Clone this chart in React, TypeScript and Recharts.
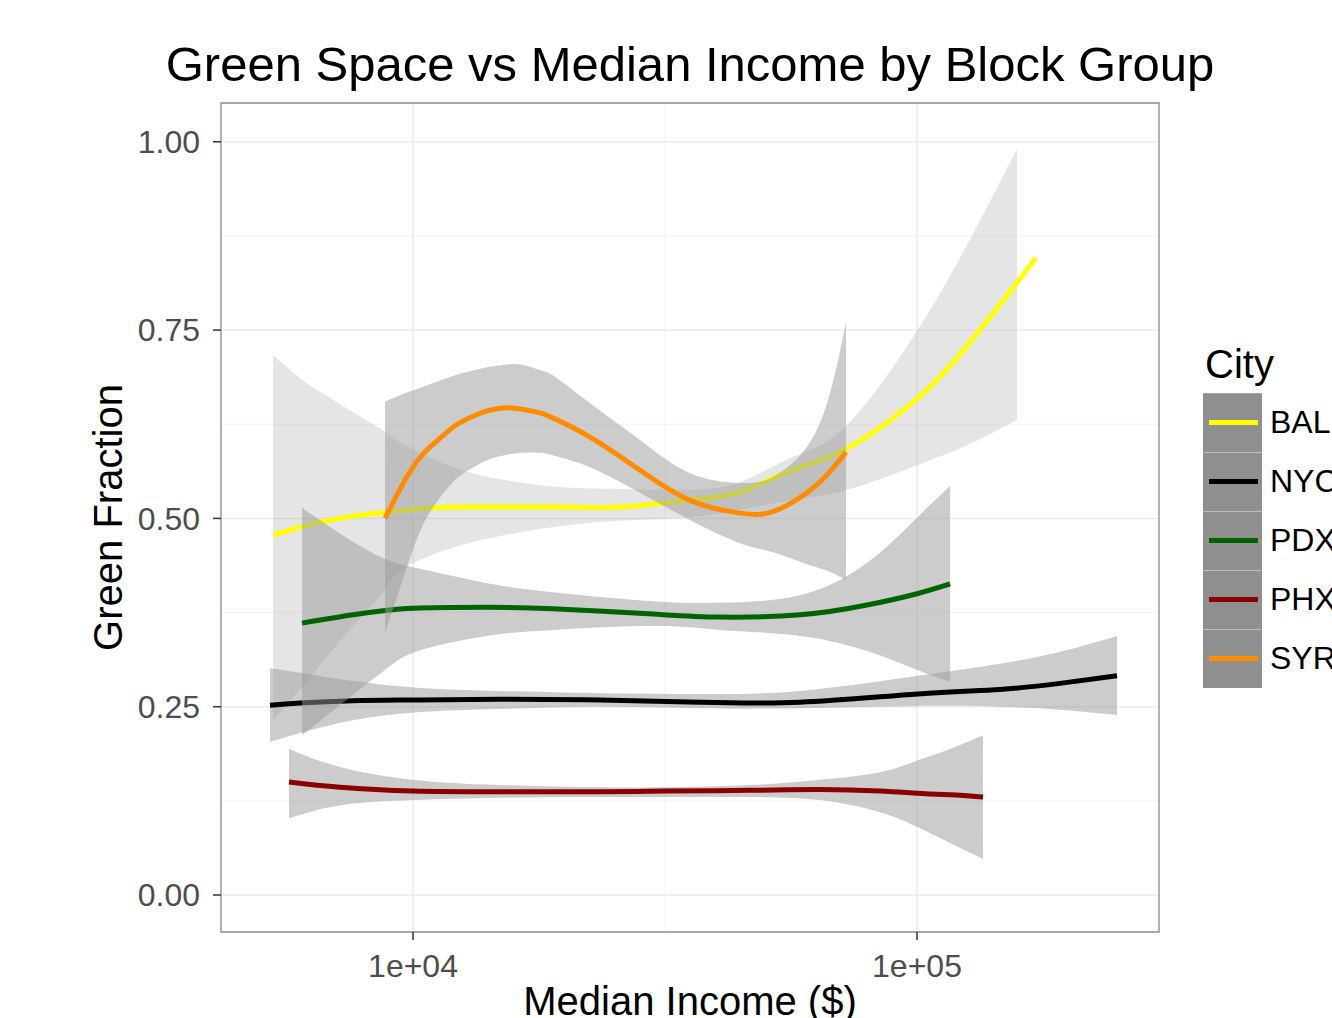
import { ComposedChart, Line, Area, XAxis, YAxis, CartesianGrid, ReferenceArea } from 'recharts';

const FONT = '"Liberation Sans", Arial, Helvetica, sans-serif';

// income (x) in dollars, log scale
const balIncome = [5277, 6022, 6540, 7603, 8800, 9641, 12115, 15223, 19130, 25750, 34980, 44550, 56000, 72630, 100460, 125700, 157900, 172200];
const balFit = [0.478, 0.489, 0.495, 0.503, 0.508, 0.511, 0.515, 0.515, 0.515, 0.515, 0.524, 0.535, 0.563, 0.593, 0.66, 0.729, 0.813, 0.846];
const balLow = [0.232, 0.276, 0.305, 0.357, 0.406, 0.435, 0.462, 0.478, 0.489, 0.497, 0.501, 0.511, 0.524, 0.538, 0.571, 0.597, 0.631];
const balHigh = [0.717, 0.684, 0.668, 0.641, 0.615, 0.597, 0.567, 0.551, 0.542, 0.539, 0.538, 0.548, 0.58, 0.624, 0.751, 0.863, 0.99];

const nycIncome = [5203, 5969, 7603, 10325, 14880, 23500, 37100, 58600, 100460, 146100, 192200, 249400];
const nycFit = [0.252, 0.255, 0.258, 0.259, 0.26, 0.259, 0.256, 0.256, 0.267, 0.273, 0.281, 0.291];
const nycLow = [0.203, 0.215, 0.232, 0.243, 0.247, 0.25, 0.248, 0.248, 0.251, 0.25, 0.246, 0.239];
const nycHigh = [0.301, 0.295, 0.284, 0.275, 0.271, 0.268, 0.267, 0.271, 0.291, 0.307, 0.323, 0.344];

const pdxIncome = [6022, 7603, 8880, 10325, 14023, 18950, 29940, 40650, 58600, 79580, 100000, 116300];
const pdxFit = [0.361, 0.372, 0.378, 0.381, 0.382, 0.38, 0.373, 0.369, 0.372, 0.385, 0.4, 0.413];
const pdxLow = [0.212, 0.266, 0.301, 0.325, 0.344, 0.352, 0.357, 0.352, 0.344, 0.324, 0.299, 0.283];
const pdxHigh = [0.514, 0.469, 0.445, 0.433, 0.414, 0.402, 0.39, 0.388, 0.398, 0.441, 0.501, 0.543];

const phxIncome = [5675, 7165, 10000, 14880, 23500, 31480, 46640, 64190, 84450, 100460, 116300, 135200];
const phxFit = [0.15, 0.143, 0.138, 0.137, 0.137, 0.138, 0.139, 0.14, 0.138, 0.135, 0.133, 0.13];
const phxLow = [0.102, 0.119, 0.126, 0.129, 0.13, 0.13, 0.13, 0.126, 0.11, 0.09, 0.069, 0.048];
const phxHigh = [0.194, 0.17, 0.153, 0.146, 0.143, 0.143, 0.146, 0.153, 0.163, 0.179, 0.194, 0.212];

const syrIncome = [8800, 9641, 10420, 11210, 12115, 13095, 14088, 15223, 16450, 17860, 19130, 22450, 28210, 35440, 44550, 51800, 60490, 67210, 72300];
const syrFit = [0.5, 0.551, 0.584, 0.604, 0.623, 0.635, 0.643, 0.647, 0.645, 0.64, 0.632, 0.608, 0.564, 0.524, 0.507, 0.509, 0.534, 0.562, 0.588];
const syrLow = [0.348, 0.428, 0.489, 0.524, 0.551, 0.567, 0.578, 0.584, 0.587, 0.587, 0.583, 0.568, 0.534, 0.498, 0.467, 0.455, 0.439, 0.429, 0.418];
const syrHigh = [0.655, 0.666, 0.674, 0.682, 0.69, 0.696, 0.701, 0.704, 0.704, 0.697, 0.688, 0.653, 0.604, 0.56, 0.547, 0.555, 0.595, 0.666, 0.761];

const cities = ['BAL', 'NYC', 'PDX', 'PHX', 'SYR'];
const cityColors = ['#FFFF00', '#000000', '#006400', '#8B0000', '#FF8C00'];

const xTicks = [10000, 100000];
const yTicks = [0, 0.25, 0.5, 0.75, 1];
const yMinor = [0.125, 0.375, 0.625, 0.875];
const xMinor = [31623];

const X_DOMAIN: [number, number] = [4159, 302100];
const Y_DOMAIN: [number, number] = [-0.0491, 1.0515];

const W = 1332;
const H = 1060;
const PLOT = { left: 221, top: 103, right: 1159, bottom: 932 };

const build = (xs: number[], fit: number[], lo: number[], hi: number[]) => ({
  line: xs.map((x, i) => ({ x, y: fit[i] })),
  band: lo.map((l, i) => ({ x: xs[i], lo: l, hi: hi[i] })),
});

const series = [
  build(balIncome, balFit, balLow, balHigh),
  build(nycIncome, nycFit, nycLow, nycHigh),
  build(pdxIncome, pdxFit, pdxLow, pdxHigh),
  build(phxIncome, phxFit, phxLow, phxHigh),
  build(syrIncome, syrFit, syrLow, syrHigh),
];
const bandOpacity = [0.25, 0.5, 0.5, 0.5, 0.5];

const fmtExp = (v: number) => {
  const [m, e] = v.toExponential().split('e');
  const n = Math.abs(parseInt(e, 10));
  return `${m}e${e[0] === '-' ? '-' : '+'}${n < 10 ? '0' + n : n}`;
};

const xTitle = () => (
  <text x={(PLOT.left + PLOT.right) / 2} y={1015} textAnchor="middle" fontSize={40} fontFamily={FONT} fill="#000">
    Median Income ($)
  </text>
);

const yTitle = () => {
  const cx = 122;
  const cy = (PLOT.top + PLOT.bottom) / 2;
  return (
    <text x={cx} y={cy} transform={`rotate(-90 ${cx} ${cy})`} textAnchor="middle" fontSize={40} fontFamily={FONT} fill="#000">
      Green Fraction
    </text>
  );
};

function CityLegend() {
  return (
    <div style={{ position: 'absolute', left: 1203, top: 344, fontFamily: FONT, color: '#000' }}>
      <div style={{ fontSize: 40, lineHeight: '40px', marginLeft: 2, height: 49 }}>City</div>
      {cities.map((c, i) => (
        <div key={c} style={{ display: 'flex', alignItems: 'center', height: 59 }}>
          <div
            style={{
              width: 59,
              height: 59,
              boxSizing: 'border-box',
              background: '#8F8F8F',
              borderTop: i === 0 ? '1px solid #A8A8A8' : '1px solid #BDBDBD',
              position: 'relative',
            }}
          >
            <div style={{ position: 'absolute', left: 6, top: 26, width: 49, height: 5, background: cityColors[i] }} />
          </div>
          <span style={{ fontSize: 32, marginLeft: 8, whiteSpace: 'nowrap' }}>{c}</span>
        </div>
      ))}
    </div>
  );
}

export default function App() {
  return (
    <div style={{ position: 'fixed', left: 0, top: 0, width: 1332, height: 1018, overflow: 'hidden', background: '#fff' }}>
      <div
        style={{
          position: 'absolute',
          left: -10,
          top: 40,
          width: 1400,
          textAlign: 'center',
          fontSize: 49,
          lineHeight: '48px',
          fontFamily: FONT,
          color: '#000',
          whiteSpace: 'nowrap',
        }}
      >
        Green Space vs Median Income by Block Group
      </div>
      <div style={{ position: 'absolute', left: 0, top: 0 }}>
        <ComposedChart width={W} height={H} margin={{ top: PLOT.top, right: W - PLOT.right, left: 0, bottom: 0 }}>
          <CartesianGrid stroke="#F3F3F3" strokeWidth={1} horizontalValues={yMinor} verticalValues={xMinor} />
          <CartesianGrid stroke="#EBEBEB" strokeWidth={1.5} horizontalValues={yTicks} verticalValues={xTicks} />
          <XAxis
            dataKey="x"
            type="number"
            scale="log"
            domain={X_DOMAIN}
            allowDataOverflow
            ticks={xTicks}
            tickFormatter={fmtExp}
            height={H - PLOT.bottom}
            tickSize={8}
            tickMargin={14}
            axisLine={false}
            tickLine={{ stroke: '#333333', strokeWidth: 1.5 }}
            tick={{ fill: '#4D4D4D', fontSize: 32, fontFamily: FONT }}
            label={xTitle}
          />
          <YAxis
            type="number"
            domain={Y_DOMAIN}
            allowDataOverflow
            ticks={yTicks}
            tickFormatter={(v: number) => v.toFixed(2)}
            width={PLOT.left}
            tickSize={8}
            tickMargin={13}
            axisLine={false}
            tickLine={{ stroke: '#333333', strokeWidth: 1.5 }}
            tick={{ fill: '#4D4D4D', fontSize: 32, fontFamily: FONT }}
            label={yTitle}
          />
          {series.flatMap((s, i) => [
            <Area
              key={`band-${cities[i]}`}
              data={s.band}
              dataKey={(d: any) => [d.lo, d.hi]}
              type="natural"
              stroke="none"
              fill="#999999"
              fillOpacity={bandOpacity[i]}
              isAnimationActive={false}
              activeDot={false}
              zIndex={100 + i * 2}
            />,
            <Line
              key={`line-${cities[i]}`}
              data={s.line}
              dataKey="y"
              type="natural"
              stroke={cityColors[i]}
              strokeWidth={5}
              dot={false}
              activeDot={false}
              isAnimationActive={false}
              zIndex={101 + i * 2}
            />,
          ])}
          <ReferenceArea
            x1={X_DOMAIN[0]}
            x2={X_DOMAIN[1]}
            y1={Y_DOMAIN[0]}
            y2={Y_DOMAIN[1]}
            fill="none"
            stroke="#8A8A8A"
            strokeWidth={1.3}
            ifOverflow="visible"
          />
        </ComposedChart>
      </div>
      <CityLegend />
    </div>
  );
}
